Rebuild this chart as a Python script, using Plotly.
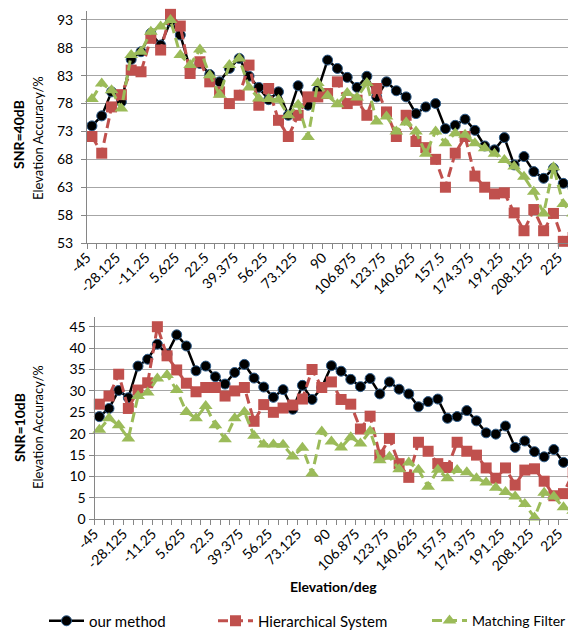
import plotly.graph_objects as go

elevation = [-45, -39.375, -33.75, -28.125, -22.5, -16.875, -11.25, -5.625, 0, 5.625,
             11.25, 16.875, 22.5, 28.125, 33.75, 39.375, 45, 50.625, 56.25, 61.875,
             67.5, 73.125, 78.75, 84.375, 90, 95.625, 101.25, 106.875, 112.5, 118.125,
             123.75, 129.375, 135, 140.625, 146.25, 151.875, 157.5, 163.125, 168.75, 174.375,
             180, 185.625, 191.25, 196.875, 202.5, 208.125, 213.75, 219.375, 225, 230.625]

tick_labels = ["-45", "-28.125", "-11.25", "5.625", "22.5", "39.375", "56.25", "73.125", "90",
               "106.875", "123.75", "140.625", "157.5", "174.375", "191.25", "208.125", "225"]
tick_positions = [-45, -28.125, -11.25, 5.625, 22.5, 39.375, 56.25, 73.125, 90,
                  106.875, 123.75, 140.625, 157.5, 174.375, 191.25, 208.125, 225]

# SNR = 40 dB
our_40 = [74.0, 75.8, 80.1, 78.3, 85.9, 87.3, 90.6, 88.5, 92.7, 90.3,
          84.3, 85.2, 83.2, 81.9, 84.3, 86.1, 82.9, 80.9, 78.7, 80.1,
          75.9, 81.2, 77.7, 80.4, 85.8, 84.3, 82.7, 80.9, 82.9, 79.2,
          81.9, 80.3, 79.2, 76.2, 77.4, 78.0, 73.5, 74.1, 75.2, 73.2,
          70.4, 69.7, 71.9, 67.0, 68.5, 65.8, 64.6, 66.4, 63.7, 62.8]
hier_40 = [72.1, 69.1, 77.4, 79.6, 84.0, 83.7, 89.7, 87.6, 94.0, 91.9,
           83.4, 85.5, 81.9, 80.1, 78.0, 79.5, 84.9, 77.7, 80.7, 75.0,
           72.1, 75.9, 79.2, 79.2, 79.8, 81.9, 78.0, 78.6, 75.9, 80.7,
           76.5, 72.1, 75.9, 71.2, 70.1, 68.0, 63.0, 69.1, 72.1, 65.0,
           63.0, 61.8, 62.0, 58.4, 55.2, 59.0, 55.2, 58.3, 53.3, 54.0]
match_40 = [78.8, 81.6, 80.4, 77.1, 86.7, 87.3, 90.9, 91.8, 93.0, 86.7,
            84.9, 87.7, 83.1, 79.6, 84.9, 86.1, 80.9, 78.9, 78.8, 78.7,
            75.9, 77.8, 72.0, 81.7, 79.4, 77.9, 79.9, 79.1, 81.7, 74.8,
            75.7, 73.0, 74.6, 73.0, 69.0, 73.0, 70.9, 72.7, 72.4, 70.9,
            70.0, 69.0, 67.9, 66.7, 64.9, 62.2, 58.3, 66.6, 60.0, 58.3]

# SNR = 10 dB
our_10 = [24.0, 25.9, 30.1, 28.4, 35.8, 37.4, 40.9, 38.6, 43.1, 40.5,
          34.7, 35.8, 33.3, 31.6, 34.3, 36.2, 33.0, 30.9, 28.5, 30.3,
          25.7, 31.3, 28.0, 30.8, 35.9, 34.6, 32.7, 31.0, 32.9, 29.3,
          32.1, 30.4, 29.3, 26.3, 27.5, 28.1, 23.6, 24.0, 25.4, 23.0,
          20.2, 19.9, 21.8, 16.8, 18.3, 15.8, 14.6, 16.3, 13.3, 12.8]
hier_10 = [26.9, 28.8, 33.9, 25.9, 30.2, 31.9, 45.0, 38.2, 34.9, 31.8,
           29.8, 30.8, 30.8, 28.8, 30.0, 30.8, 22.9, 26.8, 25.0, 26.0,
           26.7, 28.1, 35.0, 30.8, 32.1, 28.0, 26.9, 21.1, 24.1, 15.0,
           18.9, 13.0, 9.8, 18.0, 15.9, 13.0, 12.1, 18.0, 15.9, 15.0,
           12.0, 9.6, 12.0, 8.0, 11.5, 11.8, 8.9, 5.5, 6.0, 10.9]
match_10 = [20.9, 23.6, 22.0, 18.9, 28.8, 29.6, 32.9, 33.7, 30.2, 25.1,
            23.6, 26.5, 22.0, 18.7, 23.6, 25.1, 19.5, 17.5, 17.5, 17.4,
            14.7, 16.7, 10.7, 20.5, 18.2, 16.8, 19.2, 17.7, 20.6, 13.8,
            14.6, 11.7, 13.3, 11.6, 7.6, 11.6, 9.6, 11.5, 11.0, 9.6,
            8.6, 7.4, 6.4, 5.3, 3.6, 0.4, 6.2, 5.3, 2.8, 2.0]

y_ticks_40 = [53, 58, 63, 68, 73, 78, 83, 88, 93]
y_ticks_10 = [0, 5, 10, 15, 20, 25, 30, 35, 40, 45]

W, H = 576, 635
OFF = 8  # page body margin of the browser


def px(x):
    return (x - OFF) / W


def py(y):
    return 1 - (y - OFF) / H


FONT = "Lato"
BLACK = "#000000"
RED = "#C0504D"
GREEN = "#9BBB59"
GRID = "#A6A6A6"
AXIS = "#868686"

names = ["our method", "Hierarchical System", "Matching Filter"]
styles = [
    dict(line=dict(color=BLACK, width=2.5),
         marker=dict(symbol="circle", size=10, color=BLACK, line=dict(color="#2E5C8A", width=1))),
    dict(line=dict(color=RED, width=3, dash="10px,5px"),
         marker=dict(symbol="square", size=11, color=RED, line=dict(width=0))),
    dict(line=dict(color=GREEN, width=3, dash="10px,5px"),
         marker=dict(symbol="triangle-up", size=12, color=GREEN, line=dict(width=0))),
]
legends = ["legend", "legend2", "legend3"]

fig = go.Figure()
for ys, xa, ya, show in [((our_40, hier_40, match_40), "x", "y", True),
                         ((our_10, hier_10, match_10), "x2", "y2", False)]:
    for k in range(3):
        fig.add_trace(go.Scatter(
            x=elevation, y=ys[k], mode="lines+markers", name=names[k],
            xaxis=xa, yaxis=ya, showlegend=show, legend=legends[k],
            cliponaxis=False, **styles[k]))


def xaxis(domain, rng, anchor):
    return dict(domain=domain, range=rng, anchor=anchor, automargin=False,
                tickvals=tick_positions, ticktext=tick_labels, tickangle=-45,
                ticks="", showgrid=False, zeroline=False,
                showline=True, linecolor=AXIS, linewidth=1,
                ticklabelshift=-5,
                tickfont=dict(family=FONT, size=14, color="#000"),
                minor=dict(tick0=-47.8125, dtick=5.625, ticks="outside",
                           ticklen=5, tickcolor=AXIS, tickwidth=1, showgrid=False))


def yaxis(domain, rng, anchor, tv, standoff):
    return dict(domain=domain, range=rng, anchor=anchor, automargin=False, tickvals=tv,
                showgrid=True, gridcolor=GRID, gridwidth=1, zeroline=False,
                showline=True, linecolor=AXIS, linewidth=1,
                ticks="outside", ticklen=5, tickcolor=AXIS,
                ticklabelstandoff=standoff,
                tickfont=dict(family=FONT, size=14, color="#000"))


x_range = [-47.8125, 233.4375]
fig.update_layout(
    width=W, height=H, margin=dict(l=0, r=0, t=0, b=0, autoexpand=False),
    paper_bgcolor="white", plot_bgcolor="white",
    font=dict(family=FONT, color="#000"),
    xaxis=xaxis([px(87), px(578)], x_range, "y"),
    yaxis=yaxis([py(243), py(11)], [53, 94.6], "x", y_ticks_40, 5),
    xaxis2=xaxis([px(94.5), px(578)], x_range, "y2"),
    yaxis2=yaxis([py(519.3), py(317.3)], [0, 47.2], "x2", y_ticks_10, 0),
)

leg_common = dict(orientation="h", yanchor="middle", xanchor="left",
                  bgcolor="rgba(0,0,0,0)", itemwidth=35)
fig.update_layout(
    legend=dict(x=px(44), y=py(621), font=dict(family=FONT, size=15, color="#000"), **leg_common),
    legend2=dict(x=px(213), y=py(621), font=dict(family=FONT, size=15, color="#000"), **leg_common),
    legend3=dict(x=px(427), y=py(621), font=dict(family=FONT, size=14, color="#000"), **leg_common),
)

annos = [
    dict(text="<b>SNR=40dB</b>", x=19, y=135, size=14),
    dict(text="Elevation Accuracy/%", x=38, y=138, size=13),
    dict(text="<b>SNR=10dB</b>", x=19, y=428, size=14),
    dict(text="Elevation Accuracy/%", x=38, y=427, size=13),
]
for a in annos:
    fig.add_annotation(text=a["text"], x=px(a["x"]), y=py(a["y"]), xref="paper", yref="paper",
                       textangle=-90, showarrow=False, xanchor="center", yanchor="middle",
                       font=dict(family=FONT, size=a["size"], color="#000"))
fig.add_annotation(text="<b>Elevation/deg</b>", x=px(333), y=py(586), xref="paper",
                   yref="paper", showarrow=False, xanchor="center", yanchor="middle",
                   font=dict(family=FONT, size=14, color="#000"))

fig.write_html("out.html")
